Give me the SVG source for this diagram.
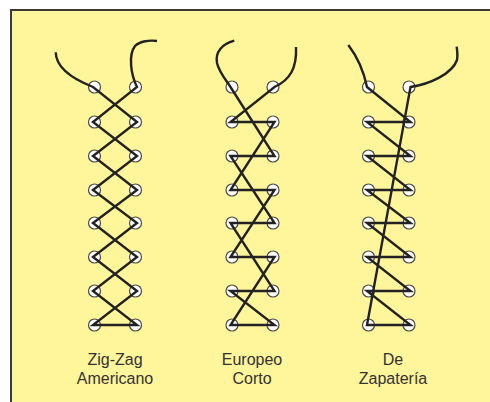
<svg xmlns="http://www.w3.org/2000/svg" width="490" height="402" viewBox="0 0 490 402">
<style>
.bg{fill:#fff59b;stroke:#3a3a3a;stroke-width:2}
.eye{fill:#ffffff;stroke:#4a4a4a;stroke-width:1.2}
.lace{fill:none;stroke:#222222;stroke-width:2.4;stroke-linejoin:miter;stroke-linecap:butt}
.lbl{font-family:"Liberation Sans",Arial,sans-serif;font-size:16px;fill:#333333;text-anchor:middle}
</style>
<defs>
<g id="col">
<circle class="eye" cx="0" cy="87" r="6"/>
<circle class="eye" cx="0" cy="122" r="6"/>
<circle class="eye" cx="0" cy="156" r="6"/>
<circle class="eye" cx="0" cy="190" r="6"/>
<circle class="eye" cx="0" cy="223" r="6"/>
<circle class="eye" cx="0" cy="257" r="6"/>
<circle class="eye" cx="0" cy="291" r="6"/>
<circle class="eye" cx="0" cy="325" r="6"/>
</g>
</defs>
<rect class="bg" x="11" y="10" width="495" height="400"/>
<g id="zigzag-americano">
<use href="#col" x="94.5"/>
<use href="#col" x="135.5"/>
<path class="lace" d="M55.7,52.3 C56,66 70,78 93,87 L137,122 L93,156 L137,190 L93,223 L137,257 L93,291 L137,325 L93,325 L137,291 L93,257 L137,223 L93,190 L137,156 L93,122 L137,87 C131,75 128,55 135,46 C140,41 150,40 157,41"/>
<text class="lbl" x="115" y="365">Zig-Zag</text>
<text class="lbl" x="115" y="384">Americano</text>
</g>
<g id="europeo-corto">
<use href="#col" x="232"/>
<use href="#col" x="273"/>
<path class="lace" d="M234.3,40.7 C222,44 215,52 217,63 C219,72 226,80 230.5,87 L274.5,156 L230.5,156 L274.5,223 L230.5,223 L274.5,291 L230.5,291 L274.5,325 L230.5,325 L274.5,257 L230.5,257 L274.5,190 L230.5,190 L274.5,122 L230.5,122 L274.5,87 C290,80 297,68 296,47"/>
<text class="lbl" x="252" y="365">Europeo</text>
<text class="lbl" x="252" y="384">Corto</text>
</g>
<g id="de-zapateria">
<use href="#col" x="368.5"/>
<use href="#col" x="409"/>
<path class="lace" d="M348.3,45 C356,55 363,68 367,87 L410.5,122 L367,122 L410.5,156 L367,156 L410.5,190 L367,190 L410.5,223 L367,223 L410.5,257 L367,257 L410.5,291 L367,291 L410.5,325 L367,325 L410.5,87 C430,84 452,74 457,60 C458,55 457,50 456.7,46.7"/>
<text class="lbl" x="393" y="365">De</text>
<text class="lbl" x="393" y="384">Zapatería</text>
</g>
</svg>
